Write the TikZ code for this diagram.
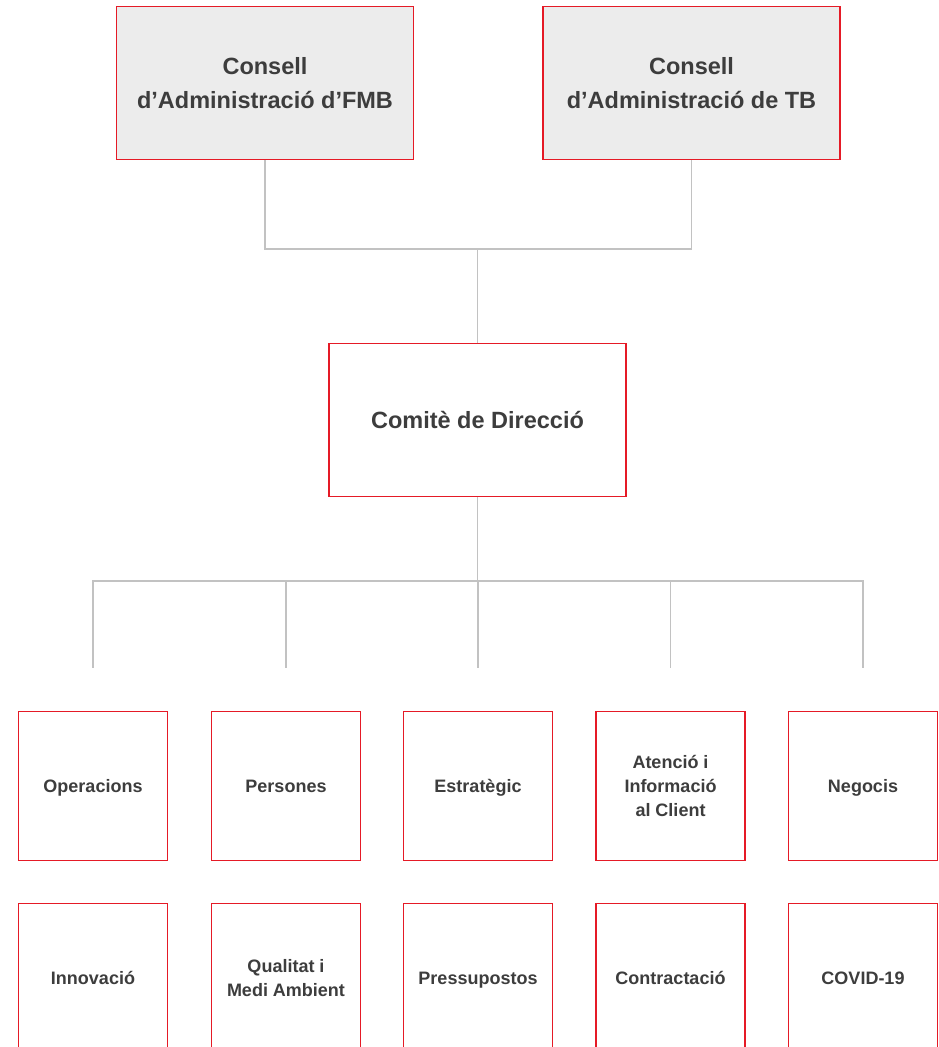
\documentclass[tikz,border=0pt]{standalone}
\usepackage{fontspec}
\setmainfont{Liberation Sans}
\usetikzlibrary{positioning}

\definecolor{orgred}{HTML}{E51A26}
\definecolor{orgline}{HTML}{C2C2C2}
\definecolor{orgfill}{HTML}{ECECEC}
\definecolor{orgtext}{HTML}{3D3D3D}

\tikzset{
  board/.style={draw=orgred, fill=orgfill, line width=1.5pt, inner sep=0pt,
    minimum width=297pt, minimum height=153pt, align=center, text=orgtext,
    text depth=0pt, font=\fontsize{23.5}{34}\selectfont\bfseries},
  committee/.style={board, fill=white},
  dept/.style={draw=orgred, fill=white, line width=1.5pt, inner sep=0pt,
    minimum width=149pt, minimum height=149pt, align=center, text=orgtext,
    text depth=0pt, font=\fontsize{18}{24}\selectfont\bfseries},
  link/.style={draw=orgline, line width=1.3pt}
}

\begin{document}
\begin{tikzpicture}[x=1pt, y=-1pt]
\useasboundingbox (0,0) rectangle (939,1047);
\clip (0,0) rectangle (939,1047);

% boards and committee
\node[board] (fmb) at (265,83) {Consell\\d’Administració d’FMB};
\node[board] (tb) at (691.5,83) {Consell\\d’Administració de TB};
\node[committee] (cd) at (477.5,420) {Comitè de Direcció};

\coordinate (join) at (477.5,249);
\draw[link] (fmb.south) |- (join) -| (tb.south);
\draw[link] (join) -- (cd.north);

% departments, two rows
\foreach \i/\x/\name in {1/93/Operacions, 2/286/Persones, 3/478/Estratègic,
    4/670.5/{Atenció i\\Informació\\al Client}, 5/863/Negocis}
  \node[dept] (r1-\i) at (\x,786) {\name};
\foreach \i/\x/\name in {1/93/Innovació, 2/286/{Qualitat i\\Medi Ambient},
    3/478/Pressupostos, 4/670.5/Contractació, 5/863/COVID-19}
  \node[dept] (r2-\i) at (\x,978) {\name};

% branches down from the committee
\coordinate (bus) at (477.5,581);
\draw[link] (cd.south) -- (bus);
\foreach \i in {1,...,5} {
  \coordinate[above=43pt of r1-\i] (tip-\i);
  \draw[link] (bus) -| (tip-\i);
}
\end{tikzpicture}
\end{document}
